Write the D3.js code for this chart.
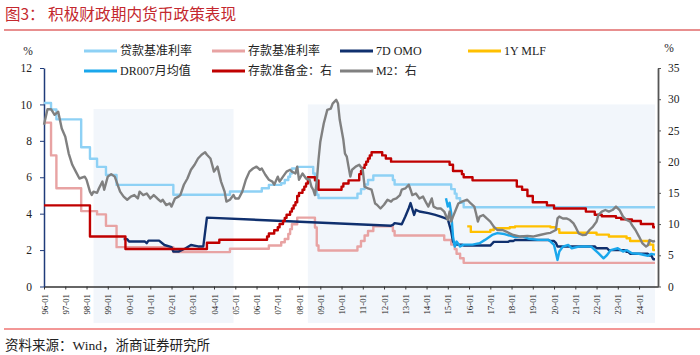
<!DOCTYPE html>
<html><head><meta charset="utf-8">
<script src="https://cdn.jsdelivr.net/npm/d3@7"></script>
<style>body{margin:0;background:#fff}svg{display:block}</style>
</head><body>
<svg id="c" width="700" height="355"></svg>
<script>
// ---------- DATA ----------
const titleText = "图3：";
const titleMain = "积极财政期内货币政策表现";
const sourceText = "资料来源：Wind，浙商证券研究所";
const seriesNames = ["贷款基准利率","存款基准利率","7D OMO","1Y MLF","DR007月均值","存款准备金：右","M2：右"];
const leftTicks = [0,2,4,6,8,10,12];
const rightTicks = [0,5,10,15,20,25,30,35];
const xTickYears = d3.range(1996, 2025);
const endMonth = "2024-10";

// shaded periods (proactive fiscal policy), top value on left scale
const shadePeriods = [["1998-05","2004-12",9.75],["2008-06","2024-10",10.0]];

// 6M loan benchmark rate (step changes)
const loanRate = [["1996-01",10.08],["1996-05",9.72],["1996-08",9.18],["1997-10",7.65],["1998-03",7.02],["1998-07",6.57],["1998-12",6.12],["1999-06",5.58],["2002-02",5.04],["2004-10",5.22],["2006-04",5.40],["2006-08",5.58],["2007-03",5.67],["2007-05",5.85],["2007-07",6.03],["2007-08",6.21],["2007-09",6.48],["2007-12",6.57],["2008-09",6.21],["2008-10",6.03],["2008-11",5.04],["2008-12",4.86],["2010-10",5.10],["2010-12",5.35],["2011-02",5.60],["2011-04",5.85],["2011-07",6.10],["2012-06",5.85],["2012-07",5.60],["2015-03",5.35],["2015-05",5.10],["2015-06",4.85],["2015-08",4.60],["2015-10",4.35]];
// 6M deposit benchmark rate (step changes)
const depositRate = [["1996-01",9.00],["1996-05",7.20],["1996-08",5.40],["1997-10",4.14],["1998-07",3.96],["1998-12",3.33],["1999-06",2.16],["2002-02",1.89],["2004-10",2.07],["2006-08",2.25],["2007-03",2.43],["2007-05",2.61],["2007-07",2.88],["2007-08",3.15],["2007-09",3.42],["2007-12",3.78],["2008-10",3.24],["2008-11",2.25],["2008-12",1.98],["2010-10",2.20],["2010-12",2.50],["2011-02",2.80],["2011-04",3.05],["2011-07",3.30],["2012-06",3.05],["2012-07",2.80],["2014-11",2.55],["2015-03",2.30],["2015-05",2.05],["2015-06",1.80],["2015-08",1.55],["2015-10",1.30]];
// 7D OMO rate (observed points)
const omo7d = [["1999-10",2.6],["1999-12",2.6],["2000-01",2.47],["2000-10",2.47],["2000-11",2.38],["2000-12",2.52],["2001-06",2.52],["2001-09",2.28],["2002-01",2.16],["2002-02",1.92],["2002-05",1.92],["2002-09",2.1],["2002-12",2.28],["2003-04",2.2],["2003-07",2.2],["2003-09",3.78],["2012-05",3.34],["2012-06",3.38],["2012-07",3.48],["2012-11",3.42],["2013-01",3.84],["2013-03",4.3],["2013-04",4.58],["2013-06",3.93],["2013-07",4.21],["2013-09",4.12],["2014-02",4.03],["2014-06",3.93],["2014-09",3.84],["2015-01",3.7],["2015-03",3.02],["2015-04",2.47],["2015-05",2.3],["2015-09",2.3],["2015-10",2.25],["2017-01",2.25],["2017-02",2.35],["2017-03",2.45],["2017-11",2.45],["2017-12",2.5],["2018-02",2.5],["2018-03",2.55],["2019-10",2.55],["2019-11",2.5],["2020-01",2.5],["2020-02",2.4],["2020-03",2.2],["2021-12",2.2],["2022-01",2.1],["2022-07",2.1],["2022-08",2.0],["2023-05",2.0],["2023-06",1.9],["2023-07",1.9],["2023-08",1.8],["2024-06",1.8],["2024-07",1.7],["2024-08",1.7],["2024-09",1.5],["2024-10",1.5]];
// 1Y MLF rate (step changes)
const mlf1y = [["2015-12",3.3],["2016-02",3.0],["2017-01",3.1],["2017-03",3.2],["2017-12",3.25],["2018-03",3.3],["2019-11",3.25],["2020-02",3.15],["2020-04",2.95],["2022-01",2.85],["2022-08",2.75],["2023-06",2.65],["2023-08",2.5],["2024-07",2.3],["2024-09",2.0]];
// DR007 monthly average
const dr007 = [["2014-12",4.85],["2015-01",4.39],["2015-02",4.6],["2015-03",4.03],["2015-04",2.74],["2015-05",2.19],["2015-06",2.47],["2015-08",2.2],["2015-10",2.3],["2016-03",2.3],["2016-07",2.38],["2016-10",2.56],["2017-02",2.83],["2017-05",2.93],["2017-09",2.88],["2018-03",2.71],["2018-07",2.75],["2018-11",2.62],["2019-04",2.56],["2019-10",2.56],["2020-01",2.28],["2020-03",1.46],["2020-04",1.92],["2020-06",2.19],["2020-09",2.28],["2020-11",2.1],["2021-03",2.19],["2021-06",2.2],["2021-10",2.19],["2022-02",1.83],["2022-05",1.55],["2022-07",1.73],["2022-09",2.0],["2023-01",2.1],["2023-04",1.92],["2023-06",2.0],["2023-09",1.83],["2024-01",1.8],["2024-04",1.73],["2024-06",1.68],["2024-08",1.79],["2024-10",1.75]];
// Required reserve ratio, right axis (step changes)
const rrr = [["1996-01",13],["1998-03",8],["1999-11",6],["2003-09",7],["2004-04",7.5],["2006-07",8],["2006-08",8.5],["2006-11",9],["2007-01",9.5],["2007-02",10],["2007-04",10.5],["2007-05",11],["2007-06",11.5],["2007-08",12],["2007-09",12.5],["2007-10",13],["2007-11",13.5],["2007-12",14.5],["2008-01",15],["2008-03",15.5],["2008-04",16],["2008-05",16.5],["2008-06",17.5],["2008-10",17],["2008-12",15.5],["2010-01",16],["2010-02",16.5],["2010-05",17],["2010-11",18],["2010-12",18.5],["2011-01",19],["2011-02",19.5],["2011-03",20],["2011-04",20.5],["2011-05",21],["2011-06",21.5],["2011-12",21],["2012-02",20.5],["2012-05",20],["2015-02",19.5],["2015-04",18.5],["2015-09",18],["2015-10",17.5],["2016-03",17],["2018-04",16],["2018-07",15.5],["2018-10",14.5],["2019-01",13.5],["2019-09",13],["2020-01",12.5],["2021-07",12],["2021-12",11.5],["2022-04",11.25],["2022-12",11],["2023-03",10.75],["2023-09",10.5],["2024-02",10],["2024-09",9.5]];
// M2 YoY growth, right axis
const m2 = [["1996-01",25.9],["1996-03",28.4],["1996-05",28.4],["1996-07",27.5],["1996-09",28.0],["1996-11",25.3],["1997-01",24.0],["1997-03",21.3],["1997-05",19.5],["1997-07",18.4],["1997-09",17.3],["1997-12",17.6],["1998-01",17.1],["1998-03",15.2],["1998-04",14.65],["1998-05",15.2],["1998-07",15.0],["1998-08",15.7],["1998-10",16.8],["1998-11",15.5],["1999-01",17.6],["1999-03",18.0],["1999-05",17.6],["1999-06",16.8],["1999-07",16.0],["1999-08",15.2],["1999-10",14.4],["1999-12",13.9],["2000-02",14.4],["2000-04",14.65],["2000-06",14.1],["2000-07",15.2],["2000-09",14.65],["2000-11",14.9],["2001-01",14.1],["2001-03",14.65],["2001-05",14.1],["2001-07",13.6],["2001-08",13.9],["2001-10",13.05],["2001-12",13.3],["2002-01",12.8],["2002-03",14.1],["2002-05",14.4],["2002-06",14.65],["2002-08",16.3],["2002-10",17.3],["2002-12",18.7],["2003-02",19.5],["2003-04",20.5],["2003-06",21.1],["2003-08",21.5],["2003-09",21.1],["2003-11",20.5],["2004-01",18.4],["2004-03",19.2],["2004-05",16.8],["2004-07",15.2],["2004-08",13.6],["2004-10",13.9],["2004-12",14.65],["2005-01",14.1],["2005-03",14.1],["2005-05",15.2],["2005-07",17.1],["2005-09",18.4],["2005-11",18.9],["2006-01",19.2],["2006-03",18.7],["2006-04",18.9],["2006-06",17.9],["2006-08",17.1],["2006-10",16.8],["2006-11",16.3],["2007-01",17.6],["2007-02",16.8],["2007-04",17.6],["2007-06",18.4],["2007-08",18.7],["2007-09",18.4],["2007-11",18.1],["2007-12",19.2],["2008-01",17.1],["2008-03",18.1],["2008-05",17.3],["2008-07",17.1],["2008-08",16.0],["2008-09",15.5],["2008-10",14.65],["2008-11",16.8],["2008-12",20.3],["2009-01",23.2],["2009-03",26.1],["2009-05",28.3],["2009-07",28.5],["2009-08",29.3],["2009-10",29.9],["2009-11",29.3],["2009-12",26.7],["2010-02",23.5],["2010-03",21.3],["2010-04",20.8],["2010-05",19.2],["2010-06",17.6],["2010-07",18.7],["2010-09",19.2],["2010-11",19.5],["2011-01",18.7],["2011-02",16.0],["2011-04",15.7],["2011-06",15.5],["2011-08",13.3],["2011-09",13.1],["2011-11",12.5],["2012-01",13.1],["2012-03",13.9],["2012-05",13.6],["2012-06",13.9],["2012-08",14.1],["2012-10",14.65],["2012-11",15.5],["2013-01",15.7],["2013-03",16.3],["2013-04",15.5],["2013-05",14.65],["2013-07",14.9],["2013-09",14.1],["2013-11",14.4],["2014-01",13.3],["2014-02",12.8],["2014-04",14.1],["2014-05",12.8],["2014-07",12.5],["2014-09",12.5],["2014-11",12.0],["2015-01",10.65],["2015-02",12.0],["2015-03",10.4],["2015-04",11.2],["2015-07",13.3],["2015-09",13.6],["2015-12",13.9],["2016-02",13.3],["2016-04",12.8],["2016-05",11.7],["2016-06",10.4],["2016-07",11.2],["2016-09",11.45],["2016-11",10.9],["2017-01",10.4],["2017-03",9.6],["2017-05",9.05],["2017-06",9.05],["2017-08",9.05],["2017-10",8.8],["2017-12",8.5],["2018-02",8.25],["2018-06",8.0],["2018-10",8.1],["2019-01",8.0],["2019-05",8.25],["2019-09",8.5],["2019-11",8.6],["2020-02",9.05],["2020-03",10.9],["2020-04",11.2],["2020-06",10.9],["2020-08",10.9],["2020-10",10.65],["2020-12",10.1],["2021-01",9.6],["2021-03",8.5],["2021-05",8.25],["2021-07",8.3],["2021-09",9.05],["2021-11",9.6],["2022-01",10.4],["2022-02",11.45],["2022-04",12.0],["2022-06",12.25],["2022-08",12.0],["2022-10",12.25],["2022-12",12.8],["2023-02",12.25],["2023-04",11.2],["2023-06",10.65],["2023-08",10.4],["2023-09",9.85],["2023-11",9.05],["2024-01",8.0],["2024-03",6.9],["2024-05",6.4],["2024-06",6.6],["2024-07",7.45],["2024-09",7.2],["2024-10",7.3]];

// ---------- CHART ----------
const colors = ["#8ed1f5","#e8a3a3","#10306e","#ffc000","#1aa7ec","#c00000","#808080"];
const serif = "'Liberation Serif','Times New Roman','Noto Sans CJK SC',serif";
const cjk = "'Noto Sans CJK SC','Liberation Serif',sans-serif";
const parse = d3.timeParse("%Y-%m");
const svg = d3.select("#c");

const x = d3.scaleTime().domain([new Date(1996,0,1), new Date(2024,10,22)]).range([44, 658]);
const yL = d3.scaleLinear().domain([0,12]).range([286.5, 68]);
const yR = d3.scaleLinear().domain([0,35]).range([286.5, 68]);

// title
svg.append("text").attr("x",5).attr("y",20).attr("font-family",cjk).attr("font-size",15.5)
  .attr("fill","#c4282e").text(titleText);
svg.append("text").attr("x",48).attr("y",20).attr("font-family",cjk).attr("font-size",15.7)
  .attr("fill","#c4282e").text(titleMain);
svg.append("line").attr("x1",4).attr("x2",700).attr("y1",30).attr("y2",30)
  .attr("stroke","#e06a6a").attr("stroke-width",1.5);

// shades
svg.append("g").selectAll("rect").data(shadePeriods).join("rect")
  .attr("x", d => x(parse(d[0])))
  .attr("width", d => x(parse(d[1])) - x(parse(d[0])))
  .attr("y", d => yL(d[2]))
  .attr("height", d => yL(-2) - yL(d[2]))
  .attr("fill", "#f2f6fb");

// axes
const gx = svg.append("g").attr("transform","translate(0,"+yL(0)+")")
  .call(d3.axisBottom(x).tickValues(xTickYears.map(y => new Date(y,0,1)))
        .tickFormat(d3.timeFormat("%y-%m")).tickSize(3).tickSizeOuter(0));
gx.select(".domain").attr("stroke","#333").attr("stroke-width",1.5);
gx.selectAll(".tick line").attr("stroke","#333");
gx.selectAll(".tick text").attr("font-family",serif).attr("font-size",8.8).attr("fill","#222")
  .attr("transform","rotate(-90)").attr("text-anchor","end")
  .attr("x",-7.5).attr("y",0).attr("dy","0.35em");

const gl = svg.append("g").attr("transform","translate(44,0)")
  .call(d3.axisLeft(yL).tickValues(leftTicks).tickSize(4).tickSizeOuter(0).tickPadding(8));
gl.select(".domain").attr("stroke","#1f3b7a").attr("stroke-width",1.5);
gl.selectAll(".tick line").attr("stroke","#1f3b7a");
gl.selectAll(".tick text").attr("font-family",serif).attr("font-size",11.5).attr("fill","#222");

const gr = svg.append("g").attr("transform","translate(658,0)")
  .call(d3.axisRight(yR).tickValues(rightTicks).tickSize(3).tickSizeOuter(0).tickPadding(7));
gr.select(".domain").attr("stroke","#555").attr("stroke-width",1.8);
gr.selectAll(".tick line").attr("stroke","#555");
gr.selectAll(".tick text").attr("font-family",serif).attr("font-size",11.5).attr("fill","#222");

svg.append("text").attr("x",28).attr("y",51).attr("text-anchor","middle").attr("dominant-baseline","central")
  .attr("font-family",serif).attr("font-size",11.5).attr("fill","#222").text("%");
svg.append("text").attr("x",669).attr("y",48).attr("text-anchor","middle").attr("dominant-baseline","central")
  .attr("font-family",serif).attr("font-size",11.5).attr("fill","#222").text("%");

// lines
const withEnd = arr => arr.concat([[endMonth, arr[arr.length-1][1]]]);
const stepL = d3.line().x(d => x(parse(d[0]))).y(d => yL(d[1])).curve(d3.curveStepAfter);
const linL = d3.line().x(d => x(parse(d[0]))).y(d => yL(d[1]));
const stepR = d3.line().x(d => x(parse(d[0]))).y(d => yR(d[1])).curve(d3.curveStepAfter);
const linR = d3.line().x(d => x(parse(d[0]))).y(d => yR(d[1]));

const layers = [
  [stepL(withEnd(loanRate)), colors[0]],
  [stepL(withEnd(depositRate)), colors[1]],
  [linL(omo7d), colors[2]],
  [stepL(withEnd(mlf1y)), colors[3]],
  [linL(dr007), colors[4]],
  [stepR(withEnd(rrr)), colors[5]],
  [linR(m2), colors[6]]
];
svg.append("g").selectAll("path").data(layers).join("path")
  .attr("d", d => d[0]).attr("fill","none").attr("stroke", d => d[1])
  .attr("stroke-width", 2.4).attr("stroke-linejoin","round");

// legend
const legPos = [[84,51],[212,51],[340,51],[468,51],[84,71],[212,71],[340,71]];
const lg = svg.append("g").selectAll("g").data(seriesNames).join("g")
  .attr("transform",(d,i) => "translate("+legPos[i][0]+","+legPos[i][1]+")");
lg.append("line").attr("x1",0).attr("x2",33).attr("y1",0).attr("y2",0)
  .attr("stroke",(d,i) => colors[i]).attr("stroke-width",3);
lg.append("text").attr("x",36).attr("y",0).attr("dominant-baseline","central")
  .attr("font-family",serif).attr("font-size",12).attr("fill","#222").text(d => d);

// footer
svg.append("line").attr("x1",4).attr("x2",700).attr("y1",329).attr("y2",329)
  .attr("stroke","#e8302e").attr("stroke-width",1.2);
svg.append("text").attr("x",5).attr("y",345).attr("dominant-baseline","central")
  .attr("font-family",serif).attr("font-size",13.5).attr("fill","#222").text(sourceText);
</script>
</body></html>
